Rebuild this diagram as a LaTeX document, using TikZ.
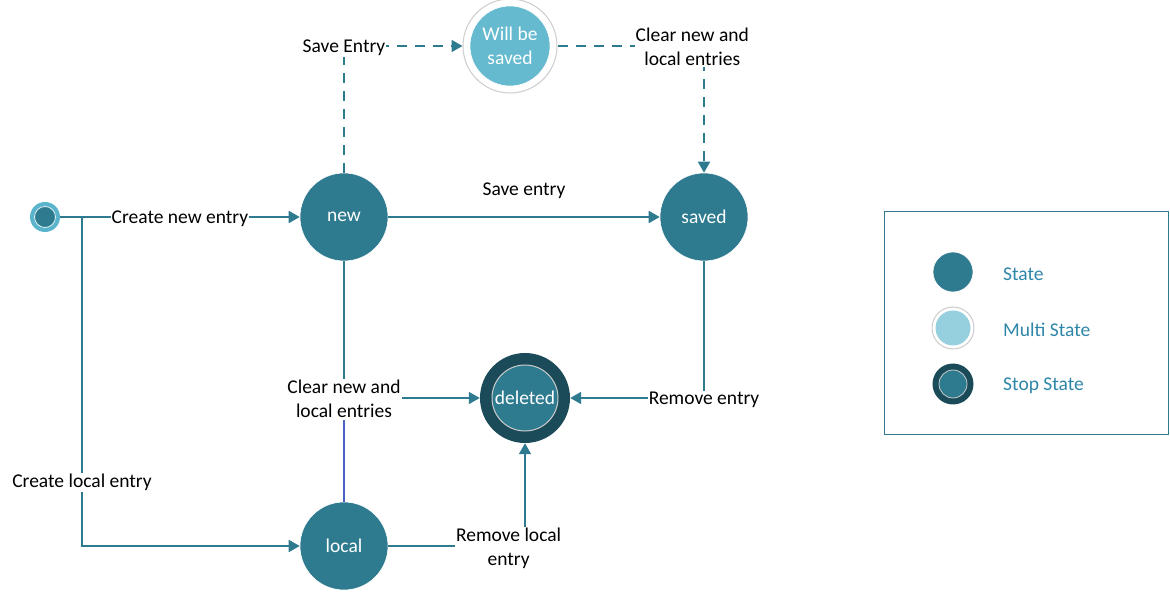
\documentclass[tikz,border=0pt]{standalone}
\usepackage{fontspec}
\setmainfont{Carlito}
\usetikzlibrary{arrows.meta}
\definecolor{teal1}{HTML}{2E7B8F}
\definecolor{lightfill}{HTML}{65BAD0}
\definecolor{paleblue}{HTML}{96CFDD}
\definecolor{darkring}{HTML}{1B4A58}
\definecolor{startring}{HTML}{5AB4CC}
\definecolor{legtext}{HTML}{2E86A8}
\definecolor{blueseg}{HTML}{4A62C0}
\definecolor{ringgray}{HTML}{CCCCCC}
\begin{document}
\begin{tikzpicture}[x=1pt,y=-1pt,
  font=\fontsize{19.5}{24}\selectfont,
  statebox/.style={circle,fill=teal1,minimum size=88pt,inner sep=0pt,text=white,draw=white,line width=0.6pt},
  willbox/.style={circle,fill=lightfill,minimum size=80pt,inner sep=0pt,text=white,align=center,draw=white,line width=0.6pt},
  stopbox/.style={circle,fill=teal1,minimum size=66pt,inner sep=0pt,text=white,draw=ringgray,line width=1pt},
  lbl/.style={fill=white,inner sep=1pt,align=center,text=black},
  arr/.style={draw=teal1,line width=1.8pt,-{Triangle[length=11pt,width=12pt]}},
  dashline/.style={dash pattern=on 10pt off 8pt},
  legtxt/.style={anchor=west,text=legtext,inner sep=0pt}
]
\useasboundingbox (0,0) rectangle (1170,593);

% start node
\node[circle,fill=startring,minimum size=30pt,inner sep=0pt] (startring) at (45,217) {};
\node[circle,fill=teal1,draw=white!80!startring,line width=0.8pt,minimum size=21pt,inner sep=0pt] (start) at (45,217) {};

% states
\node[statebox] (new) at (344,217) {new};
\node[statebox] (saved) at (704,217) {saved};
\node[statebox] (local) at (344,546) {local};

% will be saved
\node[circle,draw=ringgray,fill=white,line width=1pt,minimum size=94pt,inner sep=0pt] (willring) at (510,46) {};
\node[willbox] (will) at (510,46) {Will be\\saved};

% deleted
\node[circle,fill=darkring,minimum size=90pt,inner sep=0pt] (deleted) at (525,398) {};
\node[stopbox] (deletedin) at (525,398) {deleted};

% connectors
\coordinate (br) at (82,217);
\draw[arr] (startring.east) -- node[lbl,pos=0.5,yshift=-2pt] {Create new entry} (new.west);
\draw[arr] (br) |- node[lbl,pos=0.40,yshift=-2pt] {Create local entry} (local.west);
\draw[arr] (new.east) -- node[above=14pt,text=black] {Save entry} (saved.west);
\draw[arr,dashline] (new.north) |- node[lbl,pos=0.5,yshift=-2pt] (lsave) {Save Entry} (willring.west);
\draw[arr,dashline] (willring.east) -| node[lbl,pos=0.46,yshift=-1pt] {Clear new and\\local entries} (saved.north);
\draw[arr] (new.south) |- node[lbl,pos=0.5,yshift=-1pt] (lclear) {Clear new and\\local entries} (deleted.west);
\draw[draw=blueseg,line width=1.2pt] (local.north) -- (lclear.south);
\draw[arr] (saved.south) |- node[lbl,pos=0.5,yshift=-2pt] {Remove entry} (deleted.east);
\draw[arr] (local.east) -| node[lbl,pos=0.44,yshift=-2pt] {Remove local\\entry} (deleted.south);

% legend
\node[draw=teal1,line width=0.8pt,minimum width=284pt,minimum height=223pt,inner sep=0pt] (legend) at (1026,322.5) {};
\node[circle,fill=teal1,minimum size=40pt,inner sep=0pt,draw=white,line width=0.6pt] (lg1) at (953,272) {};
\node[legtxt,yshift=-2pt] (lt1) at (1003,272) {State};
\node[circle,draw=ringgray,fill=white,line width=1pt,minimum size=42pt,inner sep=0pt] (lg2r) at (953,328) {};
\node[circle,fill=paleblue,minimum size=35pt,inner sep=0pt] (lg2) at (953,328) {};
\node[legtxt,yshift=-2pt] (lt2) at (1003,328) {Multi State};
\node[circle,fill=darkring,minimum size=41pt,inner sep=0pt] (lg3r) at (953,384) {};
\node[circle,fill=teal1,draw=ringgray,line width=0.8pt,minimum size=28pt,inner sep=0pt] (lg3) at (953,384) {};
\node[legtxt,yshift=-2pt] (lt3) at (1003,384) {Stop State};
\end{tikzpicture}
\end{document}
